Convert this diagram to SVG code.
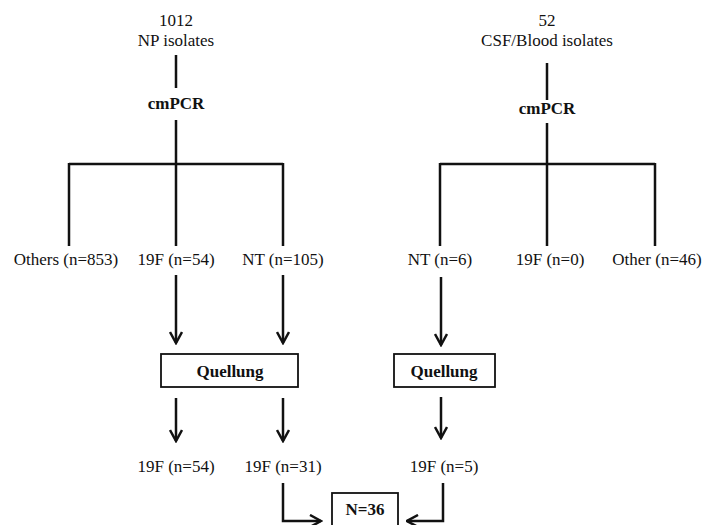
<svg xmlns="http://www.w3.org/2000/svg" width="706" height="525" viewBox="0 0 706 525">
<style>
text{font-family:"Liberation Serif","Times New Roman",serif;font-size:17px;fill:#111;text-anchor:middle}
.b{font-weight:bold}
.ln{stroke:#111;stroke-width:2.5;fill:none}
.box{fill:#fff;stroke:#111;stroke-width:1.8}
</style>
<defs>
<marker id="ah" viewBox="0 0 14 14" refX="12.5" refY="7" markerWidth="14" markerHeight="14" markerUnits="userSpaceOnUse" orient="auto">
<path d="M1.5,1 L12.5,7 L1.5,13" fill="none" stroke="#111" stroke-width="2.5"/>
</marker>
</defs>
<rect width="706" height="525" fill="#fff"/>
<g id="connectors">
<path class="ln" d="M176,55 V88 M176,120 V164 M69,164 H283 M69,163 V246 M176,164 V246 M283,163 V246"/>
<path class="ln" d="M547,63 V100 M547,123 V164 M440,164 H655 M440,163 V246 M547,164 V246 M655,163 V246"/>
<path class="ln" d="M176,275 V343" marker-end="url(#ah)"/>
<path class="ln" d="M283,275 V343" marker-end="url(#ah)"/>
<path class="ln" d="M441,277 V345" marker-end="url(#ah)"/>
<path class="ln" d="M176,398 V441" marker-end="url(#ah)"/>
<path class="ln" d="M283,398 V441" marker-end="url(#ah)"/>
<path class="ln" d="M441,397 V438" marker-end="url(#ah)"/>
<path class="ln" d="M283,483 V521 H321" marker-end="url(#ah)"/>
<path class="ln" d="M443,483 V521 H407" marker-end="url(#ah)"/>
</g>
<g id="np"><text x="176" y="26">1012</text><text x="176" y="46">NP isolates</text></g>
<g id="np-cmpcr"><text class="b" x="176" y="109">cmPCR</text></g>
<g id="np-others"><text x="66" y="265">Others (n=853)</text></g>
<g id="np-19f"><text x="176" y="265">19F (n=54)</text></g>
<g id="np-nt"><text x="283" y="265">NT (n=105)</text></g>
<g id="csf"><text x="547" y="26">52</text><text x="547" y="46">CSF/Blood isolates</text></g>
<g id="csf-cmpcr"><text class="b" x="547" y="114">cmPCR</text></g>
<g id="csf-nt"><text x="440" y="265">NT (n=6)</text></g>
<g id="csf-19f"><text x="550" y="265">19F (n=0)</text></g>
<g id="csf-other"><text x="657" y="265">Other (n=46)</text></g>
<g id="quellung-left"><rect class="box" x="161" y="354" width="137" height="33"/><text class="b" x="230" y="377">Quellung</text></g>
<g id="quellung-right"><rect class="box" x="394" y="354" width="101" height="33"/><text class="b" x="444" y="377">Quellung</text></g>
<g id="res-np-19f"><text x="176" y="472">19F (n=54)</text></g>
<g id="res-np-nt"><text x="283" y="472">19F (n=31)</text></g>
<g id="res-csf"><text x="444" y="472">19F (n=5)</text></g>
<g id="total"><rect class="box" x="332" y="493" width="66" height="40"/><text class="b" x="365" y="515">N=36</text></g>
</svg>
